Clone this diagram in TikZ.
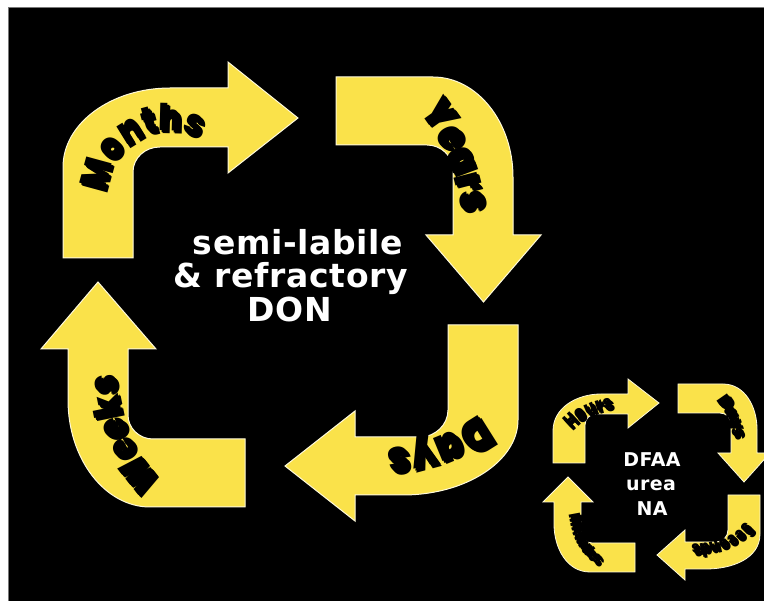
\documentclass[tikz,border=0pt]{standalone}
\usepackage{fontspec}
\usetikzlibrary{decorations.text}
\newfontfamily\heavyfont{Poppins Black}[FakeStretch=0.86]
\newfontfamily\ctrfont{DejaVu Sans}[LetterSpace=2]
\definecolor{arrowyellow}{RGB}{250,226,74}
\definecolor{framegray}{RGB}{120,120,120}
\newcommand\arrowlabel[3]{%
  \foreach \sx/\op in {3.2/0.30,2/0.35}{%
    \path[decorate, opacity=\op, shift={(\sx,-\sx)},
      decoration={text along path, text align=center,
        text={|\heavyfont\fontsize{#1}{#1}\selectfont\color{black}|#2}}] #3;
  }%
  \path[decorate, decoration={text along path, text align=center,
      text={|\heavyfont\fontsize{#1}{#1}\selectfont\color{black}|#2}}] #3;
}
\begin{document}
\begin{tikzpicture}[x=1pt,y=1pt,
  arrowshape/.style={fill=arrowyellow, draw=white!80!arrowyellow, line width=1pt, line join=miter},
  bigtxt/.style={font=\ctrfont\bfseries\fontsize{33}{33}\selectfont, text=white, inner sep=0pt, anchor=base},
  smalltxt/.style={font=\ctrfont\bfseries\fontsize{19}{19}\selectfont, text=white, inner sep=0pt, anchor=base}]
\useasboundingbox (0,0) rectangle (764,-601);
\fill[white] (0,0) rectangle (764,-601);
\fill[black] (8,-8) rectangle (764,-601);
\draw[framegray, line width=1pt] (8,-601) -- (8,-8) -- (764,-8);
\begin{scope}
\clip (8,-8) rectangle (764,-601);
% ---- big cycle ----
% Months
\path[arrowshape] (63,-258) -- (63,-167) .. controls (63,-123.5) and (111,-88) .. (170,-88)
  -- (228,-88) -- (228,-62) -- (298,-118) -- (228,-173) -- (228,-147) -- (160,-147)
  .. controls (145,-147) and (133,-158) .. (133,-172) -- (133,-258) -- cycle;
% Years
\path[arrowshape] (336,-77) -- (433,-77) .. controls (477,-77) and (513,-122) .. (513,-177)
  -- (513,-235) -- (541,-235) -- (483.5,-302) -- (426,-235) -- (453,-235) -- (453,-170)
  .. controls (453,-156) and (441,-145) .. (427,-145) -- (336,-145) -- cycle;
% Days
\path[arrowshape] (518,-325) -- (518,-420) .. controls (518,-461) and (466,-495) .. (403,-495)
  -- (355,-495) -- (355,-521) -- (285,-466) -- (355,-411) -- (355,-437) -- (420,-437)
  .. controls (435,-437) and (448,-425) .. (448,-410) -- (448,-325) -- cycle;
% Weeks
\path[arrowshape] (245,-507) -- (150,-507) .. controls (105,-507) and (68,-459) .. (68,-400)
  -- (68,-349) -- (41,-349) -- (98,-282) -- (156,-349) -- (128,-349) -- (128,-415)
  .. controls (128,-428) and (139,-439) .. (153,-439) -- (245,-439) -- cycle;
% ---- small cycle ----
% Hours
\path[arrowshape, line width=0.8pt] (553,-463) -- (553,-431) to[out=90,in=180] (601,-394) -- (628,-394)
  -- (628,-379) -- (659,-403) -- (628,-428) -- (628,-414) -- (596,-414)
  to[out=180,in=90] (585,-425) -- (585,-463) -- cycle;
% Days small
\path[arrowshape, line width=0.8pt] (678,-384) -- (723,-384) to[out=0,in=90] (757,-429) -- (757,-453)
  -- (770,-453) -- (744,-482) -- (718,-453) -- (731,-453) -- (731,-424)
  to[out=90,in=0] (720,-413) -- (678,-413) -- cycle;
% Seconds
\path[arrowshape, line width=0.8pt] (760,-495) -- (760,-534) to[out=-90,in=0] (706,-569) -- (685,-569)
  -- (685,-580) -- (657,-555) -- (685,-530) -- (685,-542) -- (716,-542)
  to[out=0,in=-90] (728,-530) -- (728,-495) -- cycle;
% Minutes
\path[arrowshape, line width=0.8pt] (635,-572) -- (590,-572) to[out=180,in=-90] (554,-524) -- (554,-502)
  -- (543,-502) -- (568,-477) -- (593,-502) -- (581,-502) -- (581,-532)
  to[out=-90,in=180] (592,-543) -- (635,-543) -- cycle;
% ---- labels on arrows ----
\arrowlabel{37}{Months}{(110,-214) arc[start angle=200, end angle=40, radius=62]}
\arrowlabel{42}{Years}{(393,-86) .. controls (436,-122) and (463,-170) .. (464,-250)}
\arrowlabel{44}{Days}{(510,-380) .. controls (486,-418) and (440,-451) .. (340,-452)}
\arrowlabel{38}{Weeks}{(182,-499) .. controls (140,-462) and (111,-425) .. (117,-345)}
\arrowlabel{18}{Hours}{(560,-443) .. controls (574,-420) and (592,-407) .. (630,-406)}
\arrowlabel{18}{Days}{(702,-386) .. controls (721,-401) and (734,-420) .. (735,-458)}
\arrowlabel{16}{Seconds}{(752,-508) .. controls (745,-532) and (725,-545) .. (676,-545)}
\arrowlabel{16}{Minutes}{(568,-500) .. controls (568,-535) and (580,-558) .. (610,-572)}
\end{scope}
% ---- centre texts ----
\node[bigtxt] (t1) at (298,-255) {semi-labile};
\node[bigtxt] (t2) at (291,-288) {\& refractory};
\node[bigtxt] (t3) at (290,-322) {DON};
\node[smalltxt] (s1) at (652,-467) {DFAA};
\node[smalltxt] (s2) at (651,-491) {urea};
\node[smalltxt] (s3) at (652,-516) {NA};
\end{tikzpicture}
\end{document}
